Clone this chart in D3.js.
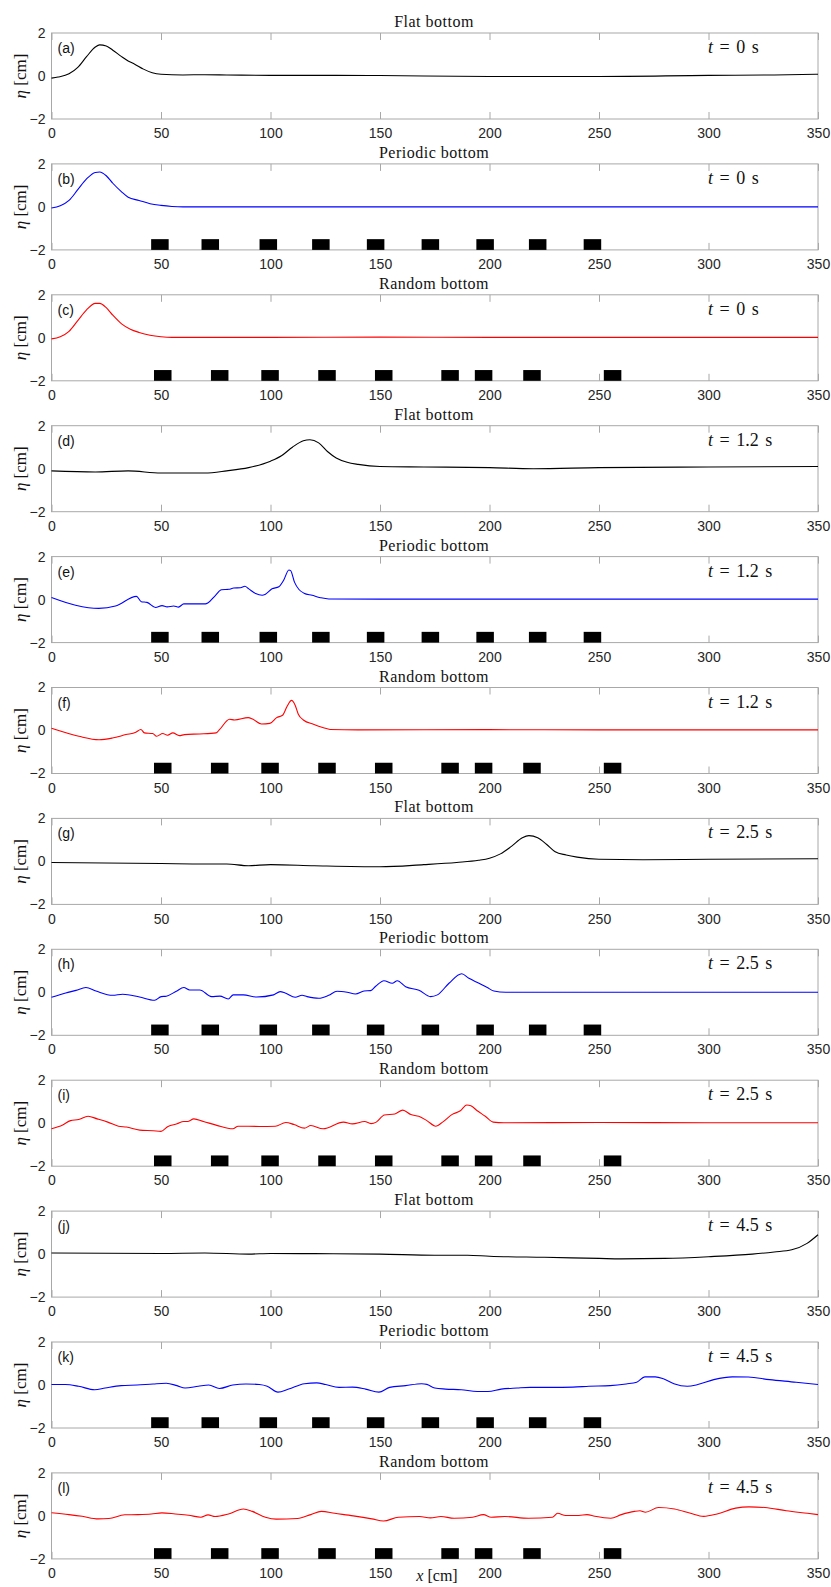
<!DOCTYPE html>
<html><head><meta charset="utf-8">
<script src="https://cdn.jsdelivr.net/npm/d3@7/dist/d3.min.js"></script>
<style>body{margin:0;background:#fff}</style>
</head><body><svg id="chart" width="831" height="1587"></svg>
<script>
// ---- data ----
const titles = ["Flat bottom","Periodic bottom","Random bottom"];
const panelLabels = ["(a)","(b)","(c)","(d)","(e)","(f)","(g)","(h)","(i)","(j)","(k)","(l)"];
const times = ["0","0","0","1.2","1.2","1.2","2.5","2.5","2.5","4.5","4.5","4.5"];
const xTicks = [0,50,100,150,200,250,300,350];
const yTicks = [-2,0,2];
const periodicBars = [49.5,72.5,99,123,148,173,198,222,247];
const randomBars = [50.8,76.8,99.8,125.8,151.7,182,197.3,219.4,256.2];
const barWidth = 8, barTop = -1.5;

const xA=[0,3,8,12,16,20,22,25,28,32,35,38,42,46,50,60,70,80,100,130,150,200,250,300,330,350];
const eA=[-0.1,-0.05,0.1,0.4,0.9,1.35,1.45,1.4,1.2,0.9,0.7,0.55,0.32,0.15,0.08,0.05,0.06,0.05,0.03,0.03,0.02,-0.02,-0.02,0.03,0.05,0.08];
const xB=[0,4,8,12,16,20,22,25,28,32,35,40,45,50,55,60,100,150,200,250,300,350];
const eB=[-0.05,0.05,0.3,0.8,1.3,1.6,1.62,1.45,1.1,0.7,0.45,0.3,0.15,0.07,0.02,0,0,0,0,0,0,0];
const xC=[0,4,8,12,16,20,22,25,28,32,36,40,45,50,55,60,100,150,200,250,300,350];
const eC=[-0.05,0.05,0.3,0.8,1.3,1.6,1.6,1.4,1.05,0.65,0.4,0.25,0.12,0.05,0.02,0.02,0.02,0.03,0.02,0.02,0.02,0.02];
const xD=[0,20,35,50,70,80,90,100,105,110,115,118,122,126,130,135,140,150,170,200,220,250,300,350];
const eD=[-0.1,-0.15,-0.1,-0.2,-0.2,-0.1,0.05,0.35,0.6,1.0,1.3,1.35,1.2,0.8,0.5,0.3,0.2,0.1,0.08,0.05,0.0,0.05,0.08,0.1];
const xE=[0,11,21.6,29.2,38.8,41,43.6,47.5,50.5,52.8,55.8,58,60.4,70.3,71.5,74.9,77.6,81,83.2,86.3,88.3,90.1,93.2,96.2,97.7,100.7,103.8,106,108.4,109.2,111,113,115.3,119,122.8,126.6,150,200,250,300,350];
const eE=[0.1,-0.26,-0.41,-0.3,0.15,-0.1,-0.13,-0.37,-0.28,-0.34,-0.3,-0.35,-0.2,-0.2,-0.15,0.2,0.46,0.48,0.54,0.55,0.62,0.5,0.28,0.2,0.25,0.5,0.6,0.9,1.38,1.35,0.8,0.47,0.3,0.2,0.09,0.03,0.02,0.02,0.02,0.02,0.02];
const xF=[0,12.5,21.7,27.8,34,38.5,40.8,42.4,46.2,48,50.8,53,55.4,58.4,60.7,67.6,75.2,76.8,81.3,83.6,89.8,92,95.9,99.7,102.8,105.5,107.6,109.6,111.2,112.7,115,119.6,124.2,127.2,140,200,250,300,350];
const eF=[0.1,-0.27,-0.43,-0.35,-0.19,-0.08,0.05,-0.11,-0.14,-0.27,-0.14,-0.22,-0.11,-0.24,-0.19,-0.16,-0.11,0.05,0.52,0.49,0.6,0.52,0.3,0.33,0.6,0.71,1.13,1.4,1.19,0.76,0.49,0.29,0.13,0.05,0.03,0.04,0.03,0.03,0.03];
const xG=[0,50,70,80,90,100,120,150,170,185,195,200,205,210,215,218,222,226,230,235,240,250,270,300,350];
const eG=[-0.05,-0.1,-0.12,-0.12,-0.2,-0.15,-0.2,-0.25,-0.15,-0.05,0.05,0.15,0.35,0.7,1.1,1.2,1.1,0.8,0.45,0.3,0.2,0.1,0.08,0.1,0.12];
const xH=[0,6.5,11.2,15.7,20.3,27.9,32.5,40.2,47.1,50.1,52.4,57,60.4,63.1,67.7,73.1,76.9,80.7,83,87.6,93.7,101.4,104.4,106.7,111.3,114.4,116.7,122,126.6,130.4,135,138.8,142.7,145.7,148,151.8,155.6,157.9,161.7,167.8,173.1,176.2,181.5,187.3,190.6,195.2,199,202,207.4,250,300,350];
const eH=[-0.23,-0.03,0.09,0.22,0.06,-0.14,-0.09,-0.22,-0.37,-0.2,-0.18,0.05,0.22,0.11,0.11,-0.2,-0.18,-0.31,-0.12,-0.12,-0.22,-0.12,0.03,-0.03,-0.23,-0.14,-0.2,-0.28,-0.14,0.05,0,-0.08,0.06,0.08,0.28,0.54,0.42,0.54,0.26,0.1,-0.2,-0.12,0.42,0.86,0.65,0.42,0.22,0.06,0,0,0,0];
const xI=[0,5.1,8.7,12.4,16.7,20.9,25.7,30.6,34.2,40.3,46.4,50,53.2,57.3,60.4,62.1,65,69.4,75.5,82.8,85.2,94.9,102.2,107,110.7,115.5,118.4,124,133.3,137.4,143,145.9,148.3,152,156.8,160.4,164.1,167.7,171.4,175.5,178.6,182.8,186.7,189.6,191.5,194.4,198.1,201.7,206.6,250,300,350];
const eI=[-0.26,-0.08,0.12,0.17,0.32,0.2,0.05,-0.14,-0.18,-0.32,-0.35,-0.38,-0.15,-0.03,0.08,0.08,0.2,0.08,-0.1,-0.26,-0.14,-0.15,-0.14,0.03,-0.06,-0.23,-0.11,-0.26,0.05,-0.03,0.08,-0.02,0.05,0.38,0.43,0.61,0.4,0.32,0.12,-0.14,0.05,0.4,0.58,0.85,0.81,0.58,0.32,0.05,0.02,0.03,0.02,0.02];
const xJ=[0,50,70,90,100,120,150,175,190,200,225,250,260,280,300,320,330,338,345,350];
const eJ=[0.05,0.03,0.05,0,0.03,0.02,0,-0.05,-0.05,-0.1,-0.15,-0.2,-0.22,-0.2,-0.12,0,0.1,0.2,0.5,0.9];
const xK=[0,6.3,12.4,19.7,24.5,31.8,39.1,46.4,52.4,57.3,61,67,71.8,76.7,82.8,88.8,94.9,98.5,103.4,108.3,115.5,121.1,125.2,131.3,137.4,143.4,149.5,154.4,161.7,169,171.4,175,179.9,187.1,194.4,199.3,205.3,212.6,218.7,228.4,238.1,245.4,255.1,262.4,267.2,270.9,275.7,279.4,284.2,290.3,295.1,302.4,310.9,318.2,327.9,340,350];
const eK=[0.02,0.02,-0.06,-0.22,-0.14,-0.03,0,0.05,0.08,-0.03,-0.14,-0.06,0,-0.16,0,0.05,0.02,-0.06,-0.33,-0.19,0.06,0.1,0.02,-0.11,-0.1,-0.19,-0.33,-0.11,-0.03,0.06,0.03,-0.14,-0.19,-0.22,-0.3,-0.3,-0.19,-0.14,-0.11,-0.11,-0.1,-0.06,-0.03,0.05,0.13,0.38,0.38,0.29,0.06,-0.06,0.02,0.25,0.38,0.37,0.25,0.13,0.02];
const xL=[0,8,14,21.3,26.2,33.5,39.5,45.6,50.4,56.5,62.6,68.2,71.5,74.7,80.8,87.6,91.7,97.7,102.6,112.3,118.4,123.2,129.3,137.8,146.3,151.6,158.4,168.1,173,177.8,183.8,192.3,197.2,200.8,206.9,217.8,228.7,231.1,234.8,240.8,244.5,248.1,255.4,260.2,266.2,268.7,271.2,277.2,284.5,291.8,297.8,303.9,312.4,318.5,325.8,335.5,345.2,350];
const eL=[0.15,0.06,-0.02,-0.14,-0.12,0.05,0.06,0.09,0.14,0.09,0.03,-0.06,0.05,-0.03,0.09,0.32,0.21,-0.06,-0.15,-0.12,0.06,0.21,0.12,0,-0.14,-0.24,-0.06,-0.03,-0.09,-0.03,-0.11,-0.06,0.06,-0.06,-0.03,-0.11,-0.06,0.12,0.02,0.02,0.06,-0.02,-0.11,0.06,0.21,0.24,0.17,0.39,0.32,0.12,-0.02,0.09,0.36,0.42,0.39,0.24,0.12,0.06];

const xs=[xA,xB,xC,xD,xE,xF,xG,xH,xI,xJ,xK,xL];
const es=[eA,eB,eC,eD,eE,eF,eG,eH,eI,eJ,eK,eL];
const lineColors=["#000000","#0000ff","#ff0000"];

// ---- layout ----
const svg=d3.select("#chart");
const left=51.5, right=818, top0=33, step=130.9, h=86;
const x=d3.scaleLinear().domain([0,350]).range([left,right]);
const serif="'Liberation Serif','DejaVu Serif',serif";
const sans="'Liberation Sans',Arial,sans-serif";

for(let i=0;i<12;i++){
  const kind=i%3;
  const t=top0+i*step;
  const y=d3.scaleLinear().domain([-2,2]).range([t+h,t]);
  const g=svg.append("g");
  // title
  g.append("text").attr("x",434).attr("y",t-6).attr("text-anchor","middle")
    .attr("font-family",serif).attr("font-size",16).attr("letter-spacing",0.5).attr("fill","#111").text(titles[kind]);
  // box
  g.append("rect").attr("x",left).attr("y",t).attr("width",right-left).attr("height",h)
    .attr("fill","none").attr("stroke","#a8a8a8").attr("stroke-width",1);
  // x ticks (bottom & top, inward)
  const xb=d3.axisBottom(x).tickValues(xTicks).tickSize(-7).tickPadding(8).tickFormat(d3.format("d"));
  const ax=g.append("g").attr("transform",`translate(0,${t+h})`).call(xb);
  ax.select(".domain").remove();
  ax.selectAll("line").attr("stroke","#a8a8a8");
  ax.selectAll("text").attr("font-family",sans).attr("font-size",14).attr("fill","#262626").attr("dy","0.8em");
  const xt=d3.axisTop(x).tickValues(xTicks).tickSize(-7).tickFormat("");
  const axt=g.append("g").attr("transform",`translate(0,${t})`).call(xt);
  axt.select(".domain").remove();
  axt.selectAll("line").attr("stroke","#a8a8a8");
  // y axis labels
  const yl=d3.axisLeft(y).tickValues(yTicks).tickSize(0).tickPadding(6).tickFormat(d3.format("d"));
  const ay=g.append("g").attr("transform",`translate(${left},0)`).call(yl);
  ay.select(".domain").remove();
  ay.selectAll("text").attr("font-family",sans).attr("font-size",14).attr("fill","#262626");
  // y label
  const yt=g.append("text").attr("transform",`translate(26,${t+h/2}) rotate(-90)`).attr("text-anchor","middle")
    .attr("font-family",serif).attr("font-size",17).attr("fill","#111");
  yt.append("tspan").attr("font-style","italic").text("η");
  yt.append("tspan").text(" [cm]");
  // bars
  if(kind>0){
    const bars = kind===1?periodicBars:randomBars;
    g.selectAll(".bar").data(bars).enter().append("rect")
      .attr("x",d=>x(d-barWidth/2)).attr("width",d=>x(d+barWidth/2)-x(d-barWidth/2))
      .attr("y",y(barTop)).attr("height",y(-2)-y(barTop)).attr("fill","#000");
  }
  // line
  const pts=xs[i].map((v,j)=>[v,es[i][j]]);
  g.append("path").datum(pts).attr("fill","none").attr("stroke",lineColors[kind]).attr("stroke-width",1.1)
    .attr("d",d3.line().x(d=>x(d[0])).y(d=>y(d[1])).curve(d3.curveMonotoneX));
  // panel label
  g.append("text").attr("x",left+6).attr("y",t+20).attr("font-family",sans).attr("font-size",14)
    .attr("fill","#111").text(panelLabels[i]);
  // time
  const tt=g.append("text").attr("x",708).attr("y",t+20).attr("font-family",serif).attr("font-size",18)
    .attr("word-spacing",2).attr("fill","#111");
  tt.append("tspan").attr("font-style","italic").text("t");
  tt.append("tspan").text(" = "+times[i]+" s");
}
// x label
const xl=svg.append("text").attr("x",437).attr("y",1581).attr("text-anchor","middle")
  .attr("font-family",serif).attr("font-size",16).attr("fill","#111");
xl.append("tspan").attr("font-style","italic").text("x");
xl.append("tspan").text(" [cm]");
</script></body></html>
